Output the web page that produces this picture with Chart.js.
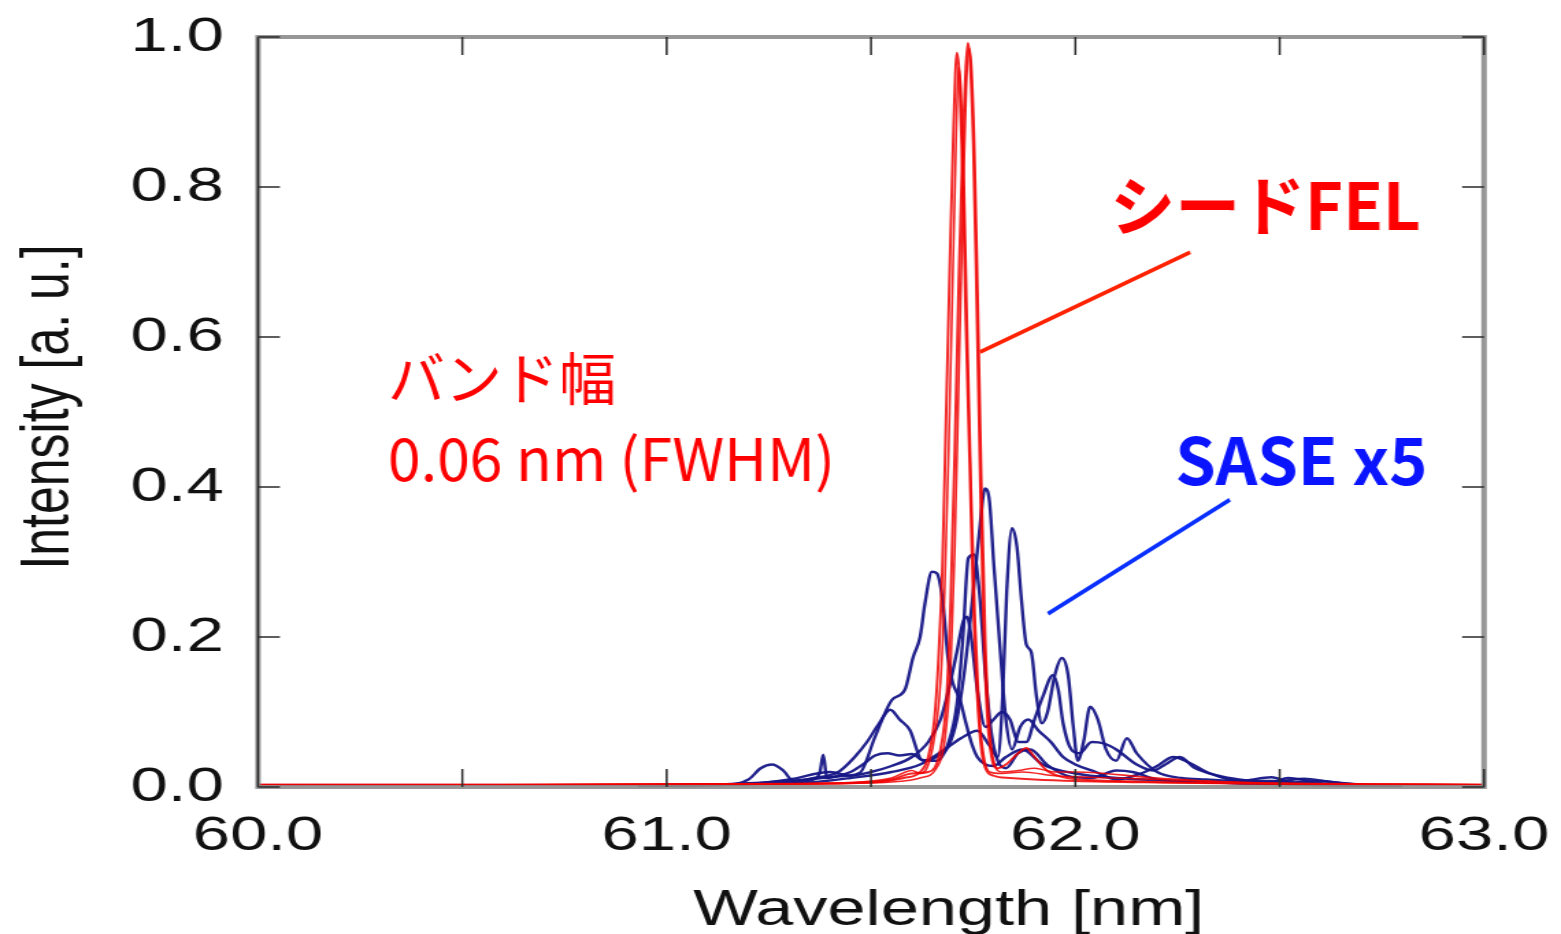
<!DOCTYPE html>
<html>
<head>
<meta charset="utf-8">
<title>Seeded FEL vs SASE spectrum</title>
<script src="https://cdn.jsdelivr.net/npm/chart.js@4.4.1/dist/chart.umd.min.js"></script>
<style>
  html, body { margin: 0; padding: 0; background: #fff; overflow: hidden; }
  #spectrum { position: absolute; left: 0; top: 0; transform-origin: 0 0; }
</style>
</head>
<body>
<canvas id="spectrum" width="1140" height="934"></canvas>
<script>
// the plot is drawn narrow and stretched sideways, like the exported figure
const STRETCH = 1561 / 1140;

// axis ranges / ticks
const wlRange = [60.0, 63.0];
const intRange = [0.0, 1.0];
const wlStep = 0.5;
const intStep = 0.2;

// seeded FEL shots (red)
const fel1Wl  = [60.0, 60.5, 61.0, 61.3, 61.5, 61.58, 61.62, 61.64, 61.655, 61.665, 61.675, 61.683, 61.693, 61.702, 61.71, 61.716, 61.724, 61.732, 61.741, 61.75, 61.76, 61.77, 61.78, 61.80, 61.84, 61.9, 62.0, 62.2, 62.5, 63.0];
const fel1Int = [0.003, 0.003, 0.003, 0.004, 0.006, 0.012, 0.02, 0.04, 0.09, 0.17, 0.30, 0.48, 0.70, 0.88, 0.979, 0.95, 0.82, 0.62, 0.44, 0.25, 0.12, 0.05, 0.025, 0.015, 0.012, 0.01, 0.008, 0.006, 0.004, 0.003];

const fel2Wl  = [60.0, 60.6, 61.0, 61.4, 61.55, 61.6, 61.64, 61.67, 61.685, 61.695, 61.705, 61.715, 61.725, 61.732, 61.737, 61.742, 61.75, 61.758, 61.766, 61.775, 61.785, 61.795, 61.81, 61.83, 61.86, 61.88, 61.9, 61.93, 61.98, 62.1, 62.4, 63.0];
const fel2Int = [0.003, 0.003, 0.004, 0.005, 0.01, 0.018, 0.02, 0.05, 0.12, 0.25, 0.45, 0.68, 0.87, 0.96, 0.992, 0.97, 0.86, 0.66, 0.44, 0.22, 0.09, 0.04, 0.025, 0.03, 0.045, 0.052, 0.04, 0.022, 0.012, 0.008, 0.005, 0.003];

const fel3Wl  = [60.0, 60.8, 61.2, 61.45, 61.55, 61.6, 61.62, 61.65, 61.67, 61.68, 61.69, 61.70, 61.708, 61.714, 61.72, 61.728, 61.736, 61.745, 61.755, 61.765, 61.775, 61.79, 61.82, 61.87, 61.95, 62.1, 62.3, 62.6, 63.0];
const fel3Int = [0.002, 0.003, 0.004, 0.006, 0.012, 0.022, 0.018, 0.05, 0.14, 0.26, 0.45, 0.68, 0.86, 0.96, 0.93, 0.80, 0.60, 0.40, 0.22, 0.10, 0.045, 0.02, 0.018, 0.02, 0.015, 0.012, 0.008, 0.004, 0.003];

const fel4Wl  = [60.0, 60.7, 61.1, 61.45, 61.58, 61.62, 61.66, 61.68, 61.695, 61.705, 61.715, 61.725, 61.733, 61.74, 61.746, 61.754, 61.762, 61.77, 61.78, 61.79, 61.80, 61.82, 61.86, 61.9, 61.95, 62.0, 62.2, 62.45, 63.0];
const fel4Int = [0.003, 0.003, 0.004, 0.005, 0.008, 0.012, 0.025, 0.06, 0.16, 0.32, 0.55, 0.78, 0.93, 0.985, 0.96, 0.84, 0.64, 0.42, 0.2, 0.08, 0.035, 0.02, 0.022, 0.025, 0.02, 0.02, 0.012, 0.005, 0.003];

// SASE shots, already multiplied by 5 (blue)
const sase1Wl  = [60.93, 61.1, 61.2, 61.3, 61.38, 61.44, 61.473, 61.51, 61.551, 61.583, 61.603, 61.62, 61.632, 61.649, 61.661, 61.676, 61.688, 61.70, 61.718, 61.73, 61.745, 61.76, 61.78, 61.80, 61.83, 61.87, 61.92, 62.0, 62.1, 62.25, 62.4, 62.55, 62.7];
const sase1Int = [0.002, 0.003, 0.005, 0.008, 0.012, 0.015, 0.019, 0.067, 0.116, 0.13, 0.173, 0.20, 0.245, 0.287, 0.285, 0.245, 0.173, 0.139, 0.116, 0.09, 0.06, 0.04, 0.03, 0.028, 0.04, 0.05, 0.03, 0.018, 0.012, 0.008, 0.005, 0.003, 0.001];

const sase2Wl  = [60.93, 61.15, 61.2, 61.23, 61.258, 61.285, 61.31, 61.36, 61.42, 61.46, 61.49, 61.52, 61.547, 61.57, 61.595, 61.625, 61.66, 61.69, 61.71, 61.725, 61.738, 61.752, 61.765, 61.78, 61.795, 61.81, 61.83, 61.86, 61.89, 61.93, 61.98, 62.04, 62.1, 62.14, 62.2, 62.3, 62.42, 62.5, 62.58, 62.7, 62.8];
const sase2Int = [0.002, 0.003, 0.01, 0.025, 0.03, 0.022, 0.008, 0.012, 0.02, 0.04, 0.06, 0.085, 0.103, 0.09, 0.076, 0.036, 0.035, 0.06, 0.11, 0.20, 0.305, 0.31, 0.26, 0.15, 0.07, 0.035, 0.025, 0.045, 0.05, 0.03, 0.015, 0.012, 0.022, 0.02, 0.01, 0.007, 0.005, 0.007, 0.004, 0.002, 0.0];

const sase3Wl  = [60.93, 61.2, 61.3, 61.36, 61.375, 61.383, 61.392, 61.42, 61.45, 61.48, 61.51, 61.54, 61.57, 61.60, 61.63, 61.66, 61.69, 61.71, 61.73, 61.75, 61.765, 61.779, 61.79, 61.80, 61.815, 61.83, 61.845, 61.865, 61.885, 61.91, 61.94, 61.97, 62.0, 62.05, 62.1, 62.16, 62.2, 62.24, 62.28, 62.33, 62.4, 62.5, 62.56, 62.62, 62.7, 62.78];
const sase3Int = [0.002, 0.004, 0.006, 0.01, 0.02, 0.043, 0.012, 0.015, 0.02, 0.03, 0.042, 0.045, 0.042, 0.044, 0.035, 0.04, 0.055, 0.09, 0.16, 0.26, 0.34, 0.398, 0.38, 0.30, 0.19, 0.09, 0.05, 0.08, 0.09, 0.075, 0.06, 0.04, 0.03, 0.02, 0.01, 0.018, 0.028, 0.04, 0.032, 0.018, 0.008, 0.008, 0.011, 0.007, 0.003, 0.0];

const sase4Wl  = [60.93, 61.2, 61.35, 61.45, 61.55, 61.62, 61.68, 61.72, 61.76, 61.79, 61.81, 61.822, 61.832, 61.845, 61.857, 61.868, 61.88, 61.892, 61.905, 61.918, 61.932, 61.95, 61.967, 61.982, 61.995, 62.006, 62.02, 62.036, 62.055, 62.075, 62.1, 62.126, 62.15, 62.2, 62.26, 62.32, 62.4, 62.48, 62.53, 62.6, 62.65, 62.72, 62.78];
const sase4Int = [0.002, 0.004, 0.006, 0.012, 0.02, 0.03, 0.05, 0.065, 0.075, 0.055, 0.04, 0.12, 0.26, 0.345, 0.32, 0.25, 0.19, 0.18, 0.12, 0.085, 0.10, 0.15, 0.172, 0.15, 0.08, 0.035, 0.06, 0.107, 0.09, 0.05, 0.035, 0.065, 0.045, 0.02, 0.012, 0.01, 0.008, 0.013, 0.006, 0.008, 0.005, 0.002, 0.0];

const sase5Wl  = [60.93, 61.2, 61.3, 61.4, 61.45, 61.5, 61.55, 61.6, 61.64, 61.67, 61.69, 61.71, 61.725, 61.735, 61.745, 61.76, 61.78, 61.80, 61.82, 61.84, 61.86, 61.88, 61.9, 61.92, 61.945, 61.958, 61.97, 61.99, 62.01, 62.04, 62.07, 62.1, 62.15, 62.19, 62.22, 62.256, 62.29, 62.35, 62.4, 62.48, 62.52, 62.6, 62.7, 62.8];
const sase5Int = [0.002, 0.004, 0.01, 0.02, 0.015, 0.02, 0.028, 0.04, 0.06, 0.09, 0.13, 0.18, 0.22, 0.227, 0.20, 0.13, 0.08, 0.09, 0.10, 0.09, 0.06, 0.06, 0.09, 0.12, 0.149, 0.13, 0.085, 0.05, 0.045, 0.06, 0.058, 0.05, 0.03, 0.022, 0.03, 0.04, 0.026, 0.015, 0.01, 0.006, 0.012, 0.005, 0.002, 0.0];

// labels placed on the plot (wavelength / intensity of the text's left baseline)
const callouts = [
  { text: 'シードFEL', wl: 62.085, at: 0.743, color: '#ff0000', font: 'bold 65px "Noto Sans CJK JP"' },
  { text: 'バンド幅', wl: 60.318, at: 0.516, color: '#ff0000', font: '57px "Noto Sans CJK JP"' },
  { text: '0.06 nm (FWHM)', wl: 60.318, at: 0.408, color: '#ff0000', font: '59px "Noto Sans CJK JP"' },
  { text: 'SASE x5', wl: 62.244, at: 0.403, color: '#0a14ff', font: 'bold 65px "Noto Sans CJK JP"' }
];
const leaders = [
  { from: [61.767, 0.58], to: [62.281, 0.713], color: '#ff2200' },
  { from: [61.933, 0.231], to: [62.378, 0.383], color: '#0a30ff' }
];

const pts = (wl, v) => wl.map((w, i) => ({ x: w, y: v[i] }));

const RED = 'rgba(240, 0, 0, 0.85)';
const NAVY = 'rgba(22, 22, 135, 0.95)';

const line = (wl, v, color, w) => ({
  data: pts(wl, v),
  borderColor: color,
  borderWidth: w,
  pointRadius: 0,
  fill: false,
  cubicInterpolationMode: 'monotone'
});

// box with inward tick marks on all four sides
const frameTicks = {
  id: 'frameTicks',
  afterDatasetsDraw(chart) {
    const { ctx, chartArea: a, scales: { x, y } } = chart;
    ctx.save();
    ctx.strokeStyle = 'rgba(140, 140, 140, 0.9)';
    ctx.lineWidth = 4;
    ctx.strokeRect(a.left, a.top, a.right - a.left, a.bottom - a.top);

    ctx.strokeStyle = '#2a2a2a';
    ctx.lineWidth = 1.5;
    ctx.beginPath();
    ctx.moveTo(a.left, a.top);
    ctx.lineTo(a.left, a.bottom);
    y.ticks.forEach(t => {
      const py = y.getPixelForValue(t.value);
      ctx.moveTo(a.left, py); ctx.lineTo(a.left + 16, py);
      ctx.moveTo(a.right, py); ctx.lineTo(a.right - 16, py);
    });
    x.ticks.forEach(t => {
      const px = x.getPixelForValue(t.value);
      ctx.moveTo(px, a.bottom); ctx.lineTo(px, a.bottom - 18);
      ctx.moveTo(px, a.top); ctx.lineTo(px, a.top + 18);
    });
    ctx.stroke();
    ctx.restore();
  }
};

// axis titles
const axisTitles = {
  id: 'axisTitles',
  afterDraw(chart) {
    const { ctx, chartArea: a, scales: { x } } = chart;
    ctx.save();
    ctx.fillStyle = '#111';
    ctx.font = '50px "Liberation Sans", Arial, sans-serif';
    ctx.textAlign = 'center';
    ctx.textBaseline = 'alphabetic';
    ctx.fillText('Wavelength [nm]', x.getPixelForValue(61.69), 925);

    ctx.translate(50, (a.top + a.bottom) / 2 - 5);
    ctx.rotate(-Math.PI / 2);
    ctx.fillText('Intensity [a. u.]', 0, 0);
    ctx.restore();
  }
};

// annotation text and leader lines, drawn unstretched
const annotations = {
  id: 'annotations',
  afterDraw(chart) {
    const { ctx, scales: { x, y } } = chart;
    ctx.save();
    ctx.scale(1 / STRETCH, 1);
    leaders.forEach(l => {
      ctx.strokeStyle = l.color;
      ctx.lineWidth = 4;
      ctx.beginPath();
      ctx.moveTo(x.getPixelForValue(l.from[0]) * STRETCH, y.getPixelForValue(l.from[1]));
      ctx.lineTo(x.getPixelForValue(l.to[0]) * STRETCH, y.getPixelForValue(l.to[1]));
      ctx.stroke();
    });
    ctx.textAlign = 'left';
    ctx.textBaseline = 'alphabetic';
    callouts.forEach(c => {
      ctx.fillStyle = c.color;
      ctx.font = c.font;
      ctx.fillText(c.text, x.getPixelForValue(c.wl) * STRETCH, y.getPixelForValue(c.at));
    });
    ctx.restore();
  }
};

const canvas = document.getElementById('spectrum');
canvas.style.transform = `scaleX(${STRETCH})`;

const tickFont = { family: '"Liberation Sans", Arial, sans-serif', size: 49 };

new Chart(canvas, {
  type: 'line',
  data: {
    datasets: [
      line(fel1Wl, fel1Int, RED, 2),
      line(fel2Wl, fel2Int, RED, 2),
      line(fel3Wl, fel3Int, RED, 1.6),
      line(fel4Wl, fel4Int, RED, 1.6),
      line(sase1Wl, sase1Int, NAVY, 2.4),
      line(sase2Wl, sase2Int, NAVY, 2.4),
      line(sase3Wl, sase3Int, NAVY, 2.4),
      line(sase4Wl, sase4Int, NAVY, 2.4),
      line(sase5Wl, sase5Int, NAVY, 2.4)
    ]
  },
  options: {
    responsive: false,
    animation: false,
    devicePixelRatio: 1,
    layout: { padding: { top: 37, right: 56.2, left: 0, bottom: 0 } },
    plugins: { legend: { display: false }, tooltip: { enabled: false } },
    scales: {
      x: {
        type: 'linear',
        min: wlRange[0],
        max: wlRange[1],
        grid: { display: false, drawTicks: false },
        border: { display: false },
        ticks: {
          stepSize: wlStep,
          padding: 20,
          color: '#111',
          font: tickFont,
          maxRotation: 0,
          autoSkip: false,
          callback: v => Math.abs(v - Math.round(v)) < 1e-6 ? v.toFixed(1) : ''
        },
        afterFit: s => { s.height = 147; s.paddingLeft = 0; s.paddingRight = 0; }
      },
      y: {
        type: 'linear',
        min: intRange[0],
        max: intRange[1],
        grid: { display: false, drawTicks: false },
        border: { display: false },
        ticks: {
          stepSize: intStep,
          padding: 25,
          color: '#111',
          font: tickFont,
          callback: v => v.toFixed(1)
        },
        afterFit: s => { s.width = 188.4; s.paddingTop = 0; s.paddingBottom = 0; }
      }
    }
  },
  plugins: [frameTicks, axisTitles, annotations]
});
</script>
</body>
</html>
